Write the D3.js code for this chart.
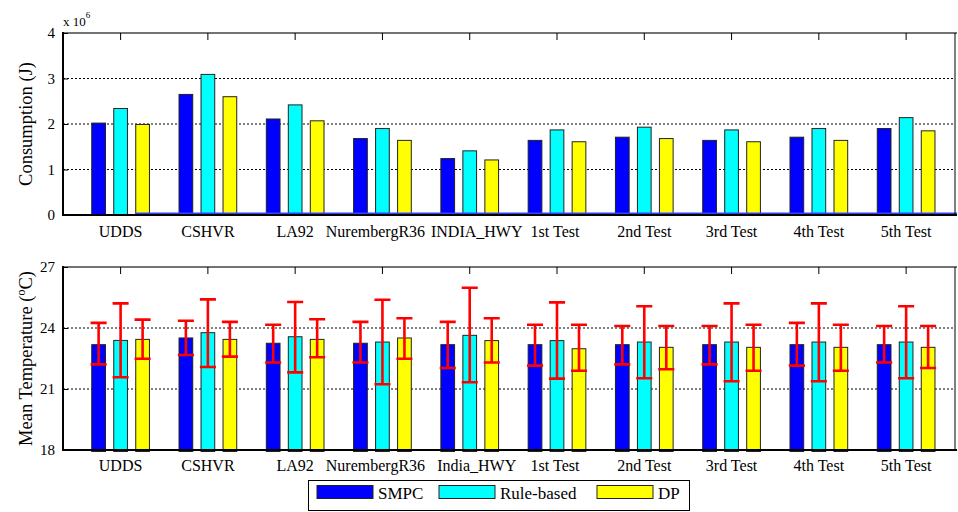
<!DOCTYPE html>
<html>
<head>
<meta charset="utf-8">
<script src="https://cdn.jsdelivr.net/npm/d3@7"></script>
<style>
    body { margin: 0; background: #fff; }
    svg text { font-family: 'Liberation Serif', 'DejaVu Serif', 'Times New Roman', Times, serif; }
</style>
</head>
<body>
<svg id="stage" width="958" height="512"></svg>
<script>
// 类别
var categories_top = ['UDDS', 'CSHVR', 'LA92', 'NurembergR36', 'INDIA_HWY', '1st Test', '2nd Test', '3rd Test', '4th Test', '5th Test'];
var categories_bottom = ['UDDS', 'CSHVR', 'LA92', 'NurembergR36', 'India_HWY', '1st Test', '2nd Test', '3rd Test', '4th Test', '5th Test'];
var series_names = ['SMPC', 'Rule-based', 'DP'];

// 能耗 (x 10^6 J)
var consumption_smpc = [2.02, 2.65, 2.11, 1.68, 1.24, 1.64, 1.71, 1.64, 1.71, 1.90];
var consumption_rule = [2.34, 3.09, 2.42, 1.90, 1.41, 1.87, 1.93, 1.87, 1.90, 2.14];
var consumption_dp = [1.99, 2.60, 2.07, 1.64, 1.21, 1.61, 1.68, 1.61, 1.64, 1.85];

// 平均温度 (oC) 及误差范围
var temp_smpc = [23.18, 23.51, 23.25, 23.25, 23.18, 23.18, 23.18, 23.18, 23.18, 23.18];
var temp_smpc_low = [22.21, 22.67, 22.30, 22.30, 22.03, 22.15, 22.21, 22.21, 22.15, 22.30];
var temp_smpc_high = [24.25, 24.36, 24.16, 24.30, 24.30, 24.16, 24.10, 24.10, 24.25, 24.10];
var temp_rule = [23.39, 23.77, 23.57, 23.31, 23.64, 23.38, 23.31, 23.31, 23.31, 23.31];
var temp_rule_low = [21.58, 22.08, 21.82, 21.23, 21.33, 21.51, 21.53, 21.38, 21.38, 21.53];
var temp_rule_high = [25.21, 25.41, 25.28, 25.39, 25.98, 25.26, 25.07, 25.21, 25.21, 25.07];
var temp_dp = [23.44, 23.44, 23.44, 23.51, 23.38, 22.98, 23.05, 23.05, 23.05, 23.05];
var temp_dp_low = [22.49, 22.59, 22.56, 22.49, 22.30, 21.90, 21.97, 21.90, 21.90, 22.03];
var temp_dp_high = [24.41, 24.30, 24.43, 24.48, 24.48, 24.16, 24.10, 24.16, 24.16, 24.10];

var ticks_top = [0, 1, 2, 3, 4];
var ticks_bottom = [18, 21, 24, 27];

var colors = ['#0000ff', '#00ffff', '#ffff00'];
var offsets = [-0.252, 0, 0.252];
var bar_w = 0.157;
// 标签微调 (px)，避免长标签重叠
var label_nudge = [0, 0, 0, -7, 7, -2, 0, 0, 0, 0];
var serif = "'Liberation Serif', 'DejaVu Serif', 'Times New Roman', Times, serif";

var svg = d3.select('#stage');
var x = d3.scaleLinear().domain([-0.66, 9.56]).range([63, 955]);

var draw_panel = function (opt) {
    var y = d3.scaleLinear().domain(opt.domain).range([opt.bottom, opt.top]);
    var g = svg.append('g');
    var left = x.range()[0], right = x.range()[1];

    // 网格
    g.selectAll('line.grid')
        .data(opt.ticks.slice(1, -1))
        .enter()
        .append('line')
        .attr('x1', left).attr('x2', right)
        .attr('y1', function (d) { return y(d); })
        .attr('y2', function (d) { return y(d); })
        .attr('stroke', '#000')
        .attr('stroke-width', 1)
        .attr('stroke-dasharray', '2,2');

    // 柱子
    opt.series.forEach(function (values, s) {
        g.selectAll('rect.s' + s)
            .data(values)
            .enter()
            .append('rect')
            .attr('x', function (d, i) { return x(i + offsets[s] - bar_w / 2); })
            .attr('width', x(bar_w) - x(0))
            .attr('y', function (d) { return y(d); })
            .attr('height', function (d) { return opt.bottom + opt.bar_extra - y(d); })
            .attr('fill', colors[s])
            .attr('stroke', '#222')
            .attr('stroke-width', 1);
    });

    if (opt.baseline) {
        g.append('line')
            .attr('x1', x(0 + offsets[2] - bar_w / 2)).attr('x2', right + 2)
            .attr('y1', opt.bottom - 1.5).attr('y2', opt.bottom - 1.5)
            .attr('stroke', '#3344ff')
            .attr('stroke-width', 1.8);
    }

    // 误差线
    if (opt.errors) {
        var cap = 0.092;
        opt.errors.forEach(function (e, s) {
            var eg = g.append('g').attr('stroke', '#ff0000').attr('stroke-width', 2.6).attr('fill', 'none');
            e.low.forEach(function (lo, i) {
                var hi = e.high[i];
                var cx = x(i + offsets[s]);
                var hw = x(cap) - x(0);
                eg.append('path')
                    .attr('d', 'M' + cx + ',' + y(lo) + 'V' + y(hi) +
                        'M' + (cx - hw) + ',' + y(hi) + 'H' + (cx + hw) +
                        'M' + (cx - hw) + ',' + y(lo) + 'H' + (cx + hw));
            });
        });
    }

    // 边框
    g.append('line').attr('x1', left).attr('x2', right + 2).attr('y1', opt.top).attr('y2', opt.top)
        .attr('stroke', '#444').attr('stroke-width', 1.6);
    g.append('line').attr('x1', right).attr('x2', right).attr('y1', opt.top).attr('y2', opt.bottom)
        .attr('stroke', '#000').attr('stroke-width', 1);
    g.append('line').attr('x1', left).attr('x2', right + 2).attr('y1', opt.bottom).attr('y2', opt.bottom)
        .attr('stroke', '#000').attr('stroke-width', 2);
    g.append('line').attr('x1', left).attr('x2', left).attr('y1', opt.top - 1).attr('y2', opt.bottom + 1)
        .attr('stroke', '#000').attr('stroke-width', 2);

    // 顶部刻度
    g.selectAll('line.xtick')
        .data(d3.range(opt.labels.length))
        .enter()
        .append('line')
        .attr('x1', function (d) { return x(d); })
        .attr('x2', function (d) { return x(d); })
        .attr('y1', opt.top).attr('y2', opt.top + 7)
        .attr('stroke', '#000').attr('stroke-width', 1);

    // y轴
    var y_axis = d3.axisLeft(y).tickValues(opt.ticks).tickSize(-5).tickPadding(8).tickFormat(d3.format('d'));
    var ya = g.append('g').attr('transform', 'translate(' + left + ',0)').call(y_axis);
    ya.attr('font-family', serif);
    ya.select('.domain').remove();
    ya.selectAll('.tick line').attr('stroke', '#000');
    ya.selectAll('.tick text')
        .attr('font-family', serif)
        .attr('font-size', 15)
        .attr('fill', '#000');

    // 类别标签
    g.selectAll('text.cat')
        .data(opt.labels)
        .enter()
        .append('text')
        .attr('x', function (d, i) { return x(i) + label_nudge[i]; })
        .attr('y', opt.bottom + opt.label_dy)
        .attr('text-anchor', 'middle')
        .attr('font-family', serif)
        .attr('font-size', 16)
        .text(function (d) { return d; });

    var t = g.append('text')
        .attr('transform', 'translate(32,' + ((opt.top + opt.bottom) / 2) + ') rotate(-90)')
        .attr('text-anchor', 'middle')
        .attr('font-family', serif)
        .attr('font-size', 18.5);
    opt.title(t);
    return y;
};

draw_panel({
    domain: [0, 4], top: 33, bottom: 215, ticks: ticks_top,
    series: [consumption_smpc, consumption_rule, consumption_dp],
    labels: categories_top, label_dy: 21.5, bar_extra: 0, baseline: true,
    title: function (t) { t.text('Consumption (J)'); }
});

draw_panel({
    domain: [18, 27], top: 267, bottom: 450, ticks: ticks_bottom,
    series: [temp_smpc, temp_rule, temp_dp],
    errors: [
        {low: temp_smpc_low, high: temp_smpc_high},
        {low: temp_rule_low, high: temp_rule_high},
        {low: temp_dp_low, high: temp_dp_high}
    ],
    labels: categories_bottom, label_dy: 20.5, bar_extra: 1.5,
    title: function (t) {
        t.append('tspan').text('Mean Temperature (');
        t.append('tspan').attr('dy', -7).attr('font-size', 12).text('o');
        t.append('tspan').attr('dy', 7).text('C)');
    }
});

// x 10^6
var mult = svg.append('text').attr('x', 63).attr('y', 26).attr('font-family', serif).attr('font-size', 13);
mult.append('tspan').text('x 10');
mult.append('tspan').attr('dy', -8).attr('font-size', 9).text('6');

// 图例
var legend = svg.append('g');
legend.append('rect')
    .attr('x', 308.5).attr('y', 480.5).attr('width', 381).attr('height', 30)
    .attr('fill', '#fff').attr('stroke', '#000').attr('stroke-width', 1);
var legend_x = [317, 439, 597];
series_names.forEach(function (name, s) {
    legend.append('rect')
        .attr('x', legend_x[s]).attr('y', 485.5).attr('width', 56).attr('height', 13)
        .attr('fill', colors[s]).attr('stroke', '#222').attr('stroke-width', 1);
    legend.append('text')
        .attr('x', legend_x[s] + 61).attr('y', 498.5)
        .attr('font-family', serif)
        .attr('font-size', 17)
        .text(name);
});
</script>
</body>
</html>
